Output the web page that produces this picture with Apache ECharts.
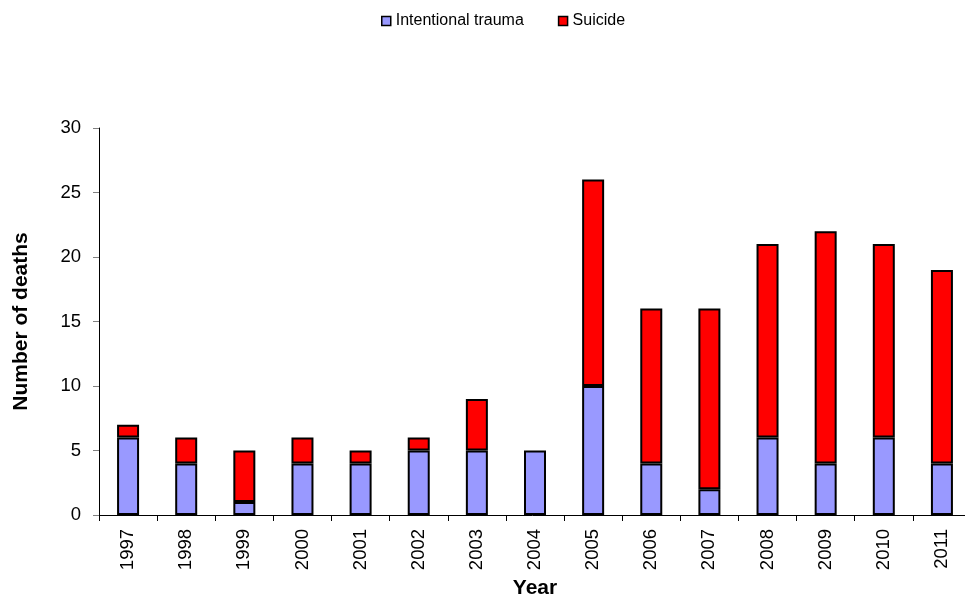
<!DOCTYPE html>
<html>
<head>
<meta charset="utf-8">
<script src="https://cdn.jsdelivr.net/npm/echarts@6/dist/echarts.min.js"></script>
<style>
  html, body { margin: 0; padding: 0; background: #fff; }
  #chart { width: 965px; height: 596px; }
</style>
</head>
<body>
<div id="chart"></div>
<script>
// data
const years = ['1997', '1998', '1999', '2000', '2001', '2002', '2003', '2004',
  '2005', '2006', '2007', '2008', '2009', '2010', '2011'];
const intentionalTrauma = [6, 4, 1, 4, 4, 5, 5, 5, 10, 4, 2, 6, 4, 6, 4];
const suicide = [1, 2, 4, 2, 1, 1, 4, 0, 16, 12, 14, 15, 18, 15, 15];
const yTicks = [0, 5, 10, 15, 20, 25, 30];

const chart = echarts.init(document.getElementById('chart'));

const barStyle = (color) => ({
  color: color,
  borderColor: '#000',
  borderWidth: 2,
});

chart.setOption({
  animation: false,
  textStyle: { fontFamily: 'Liberation Sans, Arial, sans-serif' },
  legend: {
    top: 8,
    left: 376,
    itemWidth: 9,
    itemHeight: 9,
    itemGap: 34,
    textStyle: { fontSize: 16, color: '#000' },
    data: [
      { name: 'Intentional trauma', icon: 'rect', itemStyle: { borderColor: '#000', borderWidth: 1.5 } },
      { name: 'Suicide', icon: 'rect', itemStyle: { borderColor: '#000', borderWidth: 1.5 } },
    ],
  },
  grid: {
    left: 99,
    right: -6,
    top: 128,
    bottom: 81,
    containLabel: false,
    outerBoundsMode: 'none',
  },
  xAxis: {
    type: 'category',
    data: years,
    name: 'Year',
    nameLocation: 'middle',
    nameGap: 60,
    nameTextStyle: { fontSize: 21, fontWeight: 'bold', color: '#000' },
    axisLine: { lineStyle: { color: '#000', width: 1 } },
    axisTick: { show: true, length: 6, lineStyle: { color: '#000' } },
    axisLabel: { rotate: 90, fontSize: 18.5, color: '#000', margin: 14 },
  },
  yAxis: {
    type: 'value',
    min: yTicks[0],
    max: yTicks[yTicks.length - 1],
    interval: 5,
    name: 'Number of deaths',
    nameLocation: 'middle',
    nameGap: 67,
    nameTextStyle: { fontSize: 21, fontWeight: 'bold', color: '#000' },
    axisLine: { show: true, lineStyle: { color: '#000', width: 1 } },
    axisTick: { show: true, length: 6, lineStyle: { color: '#808080' } },
    axisLabel: { fontSize: 18.5, color: '#000', margin: 18 },
    splitLine: { show: false },
  },
  series: [
    {
      name: 'Intentional trauma',
      type: 'bar',
      stack: 'total',
      barWidth: 22,
      itemStyle: barStyle('#9999FF'),
      data: intentionalTrauma,
    },
    {
      name: 'Suicide',
      type: 'bar',
      stack: 'total',
      barWidth: 22,
      itemStyle: barStyle('#FF0000'),
      data: suicide.map((v) => (v === 0 ? null : v)),
    },
  ],
});
</script>
</body>
</html>
